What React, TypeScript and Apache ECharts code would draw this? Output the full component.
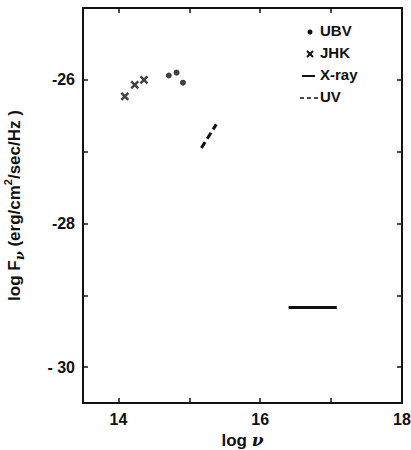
import React, { useEffect, useRef } from "react";
import * as echarts from "echarts";

const ubvLogNu = [14.71, 14.82, 14.91];
const ubvLogF = [-25.94, -25.9, -26.04];
const jhkLogNu = [14.09, 14.23, 14.36];
const jhkLogF = [-26.23, -26.07, -26.0];
const xrayLogNu = [16.4, 17.08];
const xrayLogF = [-29.17, -29.17];
const uvLogNu = [15.17, 15.38];
const uvLogF = [-26.95, -26.62];
const xTicks = [14, 15, 16, 17];
const xTickLabels = [14, 16, 18];
const yTicks = [-30, -29, -28, -27, -26];
const yTickLabels = [-30, -28, -26];
const legendNames = ["UBV", "JHK", "X-ray", "UV"];

const FONT = '"Liberation Sans", "DejaVu Sans", sans-serif';
const INK = "#111";

const pairs = (xs: number[], ys: number[]) => xs.map((x, i) => [x, ys[i]]);

export default function App() {
  const ref = useRef<HTMLDivElement>(null);
  useEffect(() => {
    if (!ref.current) return;
    const chart = echarts.init(ref.current, undefined, { renderer: "svg" });
    const axisCommon = {
      type: "value" as const,
      axisLine: { show: true, lineStyle: { color: INK, width: 2 } },
      splitLine: { show: false },
    };
    const xBase = { ...axisCommon, min: 13.5, max: 18 };
    const yBase = { ...axisCommon, min: -30.5, max: -25 };
    const tick = (vals: number[]) => ({
      show: true,
      inside: true,
      length: 5,
      customValues: vals,
      lineStyle: { color: INK, width: 1.5 },
    });
    const labelStyle = {
      color: INK,
      fontFamily: FONT,
      fontWeight: "bold" as const,
      fontSize: 16,
    };
    const legendY = [32, 54, 76, 98];
    const graphic: any[] = [];
    legendNames.forEach((name, i) => {
      graphic.push({
        type: "text",
        left: 320,
        top: legendY[i] - 9,
        style: {
          text: name,
          fill: INK,
          font: `bold 15px ${FONT}`,
        },
      });
    });
    graphic.push({ type: "circle", shape: { cx: 310, cy: legendY[0], r: 2.5 }, style: { fill: INK } });
    graphic.push({ type: "line", shape: { x1: 307, y1: legendY[1] - 3, x2: 313, y2: legendY[1] + 3 }, style: { stroke: INK, lineWidth: 2 } });
    graphic.push({ type: "line", shape: { x1: 307, y1: legendY[1] + 3, x2: 313, y2: legendY[1] - 3 }, style: { stroke: INK, lineWidth: 2 } });
    graphic.push({ type: "line", shape: { x1: 302, y1: legendY[2], x2: 315, y2: legendY[2] }, style: { stroke: INK, lineWidth: 2 } });
    graphic.push({ type: "line", shape: { x1: 300, y1: legendY[3], x2: 318, y2: legendY[3] }, style: { stroke: INK, lineWidth: 1.6, lineDash: [4, 3] } });

    chart.setOption({
      animation: false,
      backgroundColor: "#fff",
      grid: {
        left: 83,
        right: 9,
        top: 8,
        bottom: 47,
        containLabel: false,
        outerBoundsMode: "none",
      },
      xAxis: [
        {
          ...xBase,
          position: "bottom",
          axisTick: tick(xTicks),
          axisLabel: {
            ...labelStyle,
            customValues: xTickLabels,
            margin: 8,
            showMaxLabel: true,
          },
          name: "{a|log }{nu|ν}",
          nameLocation: "middle",
          nameGap: 26,
          nameTextStyle: {
            rich: {
              a: { fontFamily: FONT, fontWeight: "bold", fontSize: 17, color: INK, lineHeight: 20 },
              nu: { fontFamily: "DejaVu Serif, serif", fontStyle: "italic", fontWeight: "bold", fontSize: 17, color: INK, lineHeight: 20 },
            },
          },
        },
        {
          ...xBase,
          position: "top",
          axisTick: tick(xTicks),
          axisLabel: { show: false },
        },
      ],
      yAxis: [
        {
          ...yBase,
          position: "left",
          axisTick: tick(yTicks),
          axisLabel: {
            ...labelStyle,
            customValues: yTickLabels,
            margin: 8,
            formatter: (v: number) => (v === -30 ? "- 30" : String(v)),
          },
          name: "{a|log F}{sub|ν}{a| (erg/cm}{sup|2}{a|/sec/Hz )}",
          nameLocation: "middle",
          nameGap: 57,
          nameRotate: 90,
          nameTextStyle: {
            rich: {
              a: { fontFamily: FONT, fontWeight: "bold", fontSize: 17, color: INK, lineHeight: 24, verticalAlign: "middle" },
              sub: { fontFamily: "DejaVu Serif, serif", fontStyle: "italic", fontWeight: "bold", fontSize: 13, color: INK, lineHeight: 24, verticalAlign: "bottom" },
              sup: { fontFamily: FONT, fontWeight: "bold", fontSize: 11, color: INK, lineHeight: 24, verticalAlign: "top" },
            },
          },
        },
        {
          ...yBase,
          position: "right",
          axisTick: tick(yTicks),
          axisLabel: { show: false },
        },
      ],
      series: [
        {
          name: "UBV",
          type: "scatter",
          data: pairs(ubvLogNu, ubvLogF),
          symbol: "circle",
          symbolSize: 6,
          itemStyle: { color: INK },
        },
        {
          name: "JHK",
          type: "scatter",
          data: pairs(jhkLogNu, jhkLogF),
          symbol: "path://M0,0L10,10M10,0L0,10",
          symbolSize: 7,
          itemStyle: { color: "none", borderColor: INK, borderWidth: 2.5 },
        },
        {
          name: "X-ray",
          type: "line",
          data: pairs(xrayLogNu, xrayLogF),
          symbol: "none",
          lineStyle: { color: INK, width: 3 },
        },
        {
          name: "UV",
          type: "line",
          data: pairs(uvLogNu, uvLogF),
          symbol: "none",
          lineStyle: { color: INK, width: 3, type: [7, 4] },
        },
      ],
      graphic,
    });
    return () => chart.dispose();
  }, []);
  return (
    <div
      ref={ref}
      style={{ position: "fixed", left: 0, top: 0, width: 411, height: 450, background: "#fff" }}
    />
  );
}
